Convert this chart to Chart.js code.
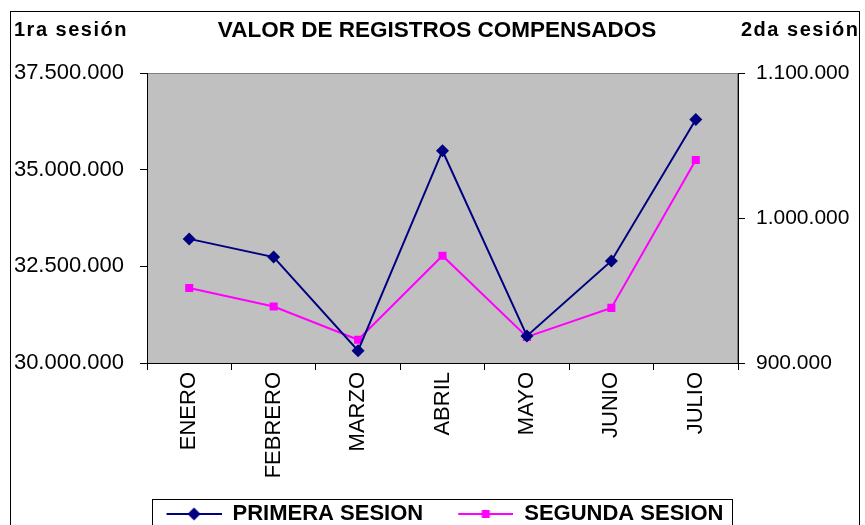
<!DOCTYPE html>
<html>
<head>
<meta charset="utf-8">
<script src="https://cdn.jsdelivr.net/npm/chart.js@4/dist/chart.umd.min.js"></script>
<style>
  html, body { margin: 0; padding: 0; background: #fff; overflow: hidden; }
  #wrap { width: 865px; height: 525px; }
</style>
</head>
<body>
<div id="wrap"><canvas id="grafico" width="865" height="525"></canvas></div>
<script>
const meses = ["ENERO", "FEBRERO", "MARZO", "ABRIL", "MAYO", "JUNIO", "JULIO"];
const primeraSesion = [33210000, 32740000, 30320000, 35490000, 30700000, 32640000, 36300000];
const segundaSesion = [951700, 939000, 916000, 974000, 918000, 938000, 1040000];
const ticksIzq = [30000000, 32500000, 35000000, 37500000];
const ticksDer = [900000, 1000000, 1100000];

const titulo = "VALOR DE REGISTROS COMPENSADOS";
const tituloIzq = "1ra sesión";
const tituloDer = "2da sesión";

const FUENTE = "'Liberation Sans', Arial, sans-serif";
const AZUL = "#000080";
const MAGENTA = "#FF00FF";

const puntos = (valor) => String(valor).replace(/\B(?=(\d{3})+(?!\d))/g, ".");

// iconos de la leyenda: linea con el marcador al medio
const iconoLeyenda = (color, forma) => {
  const c = document.createElement("canvas");
  c.width = 80;
  c.height = 16;
  const ctx = c.getContext("2d");
  ctx.strokeStyle = color;
  ctx.lineWidth = 2;
  ctx.beginPath();
  ctx.moveTo(25, 8);
  ctx.lineTo(80, 8);
  ctx.stroke();
  ctx.fillStyle = color;
  ctx.beginPath();
  if (forma === "rombo") {
    ctx.moveTo(52.5, 1.5);
    ctx.lineTo(59, 8);
    ctx.lineTo(52.5, 14.5);
    ctx.lineTo(46, 8);
    ctx.closePath();
  } else {
    ctx.rect(48.5, 4, 8, 8);
  }
  ctx.fill();
  return c;
};
const iconos = [iconoLeyenda(AZUL, "rombo"), iconoLeyenda(MAGENTA, "cuadro")];

const fondo = {
  id: "fondo",
  beforeDraw(chart) {
    const { ctx, chartArea: a } = chart;
    ctx.save();
    ctx.fillStyle = "#fff";
    ctx.fillRect(0, 0, chart.width, chart.height);
    ctx.fillStyle = "#C0C0C0";
    ctx.fillRect(a.left, a.top, a.right - a.left, a.bottom - a.top);
    ctx.strokeStyle = "#808080";
    ctx.lineWidth = 1;
    ctx.strokeRect(a.left + 0.5, a.top + 0.5, a.right - a.left - 1, a.bottom - a.top);
    ctx.restore();
  },
  afterDraw(chart) {
    const { ctx } = chart;
    ctx.save();
    ctx.strokeStyle = "#000";
    ctx.lineWidth = 1;
    ctx.strokeRect(10.5, 11.5, 849, 540);

    ctx.fillStyle = "#000";
    ctx.textBaseline = "middle";
    ctx.font = "bold 22.5px " + FUENTE;
    ctx.textAlign = "center";
    ctx.fillText(titulo, 437, 31);
    ctx.font = "bold 20px " + FUENTE;
    ctx.letterSpacing = "1.5px";
    ctx.textAlign = "left";
    ctx.fillText(tituloIzq, 14, 30);
    ctx.fillText(tituloDer, 741, 30);
    ctx.letterSpacing = "0px";

    const cajas = chart.legend.legendHitBoxes;
    if (cajas && cajas.length) {
      const ult = cajas[cajas.length - 1];
      const x0 = cajas[0].left + 10;
      const x1 = ult.left + ult.width + 8;
      const y0 = cajas[0].top - 4;
      ctx.strokeStyle = "#000";
      ctx.strokeRect(Math.round(x0) + 0.5, Math.round(y0) + 0.5, Math.round(x1 - x0), 60);
    }
    ctx.restore();
  }
};

const config = {
  type: "line",
  data: {
    labels: meses,
    datasets: [
      {
        label: "PRIMERA SESION",
        data: primeraSesion,
        yAxisID: "yIzq",
        borderColor: AZUL,
        backgroundColor: AZUL,
        borderWidth: 2,
        pointStyle: "rectRot",
        pointRadius: 6.5,
        pointBorderWidth: 0,
        tension: 0
      },
      {
        label: "SEGUNDA SESION",
        data: segundaSesion,
        yAxisID: "yDer",
        borderColor: MAGENTA,
        backgroundColor: MAGENTA,
        borderWidth: 2,
        pointStyle: "rect",
        pointRadius: 5.7,
        pointBorderWidth: 0,
        tension: 0
      }
    ]
  },
  options: {
    responsive: false,
    animation: false,
    layout: { padding: { top: 73, left: 0, right: 0, bottom: -10 } },
    scales: {
      x: {
        offset: true,
        grid: { offset: true, drawOnChartArea: false, color: "#000", tickLength: 7 },
        border: { color: "#000", width: 1 },
        ticks: {
          color: "#000",
          font: { family: FUENTE, size: 22 },
          minRotation: 90,
          maxRotation: 90,
          padding: 2,
          autoSkip: false
        },
        afterFit(s) { s.height = 130; }
      },
      yIzq: {
        position: "left",
        min: ticksIzq[0],
        max: ticksIzq[ticksIzq.length - 1],
        afterBuildTicks(s) { s.ticks = ticksIzq.map((v) => ({ value: v })); },
        grid: { drawOnChartArea: false, color: "#000", tickLength: 7 },
        border: { color: "#000", width: 1 },
        ticks: {
          color: "#000",
          font: { family: FUENTE, size: 22 },
          padding: 16,
          callback: (v) => puntos(v)
        },
        afterFit(s) { s.width = 147; }
      },
      yDer: {
        position: "right",
        min: ticksDer[0],
        max: ticksDer[ticksDer.length - 1],
        afterBuildTicks(s) { s.ticks = ticksDer.map((v) => ({ value: v })); },
        grid: { drawOnChartArea: false, color: "#000", tickLength: 7 },
        border: { color: "#000", width: 1 },
        ticks: {
          color: "#000",
          font: { family: FUENTE, size: 21 },
          padding: 11,
          callback: (v) => puntos(v)
        },
        afterFit(s) { s.width = 127; }
      }
    },
    plugins: {
      title: { display: false },
      tooltip: { enabled: false },
      legend: {
        position: "bottom",
        labels: {
          color: "#000",
          font: { family: FUENTE, size: 22, weight: "bold" },
          usePointStyle: true,
          pointStyleWidth: 80,
          padding: 10,
          generateLabels(chart) {
            const items = Chart.defaults.plugins.legend.labels.generateLabels(chart);
            items.forEach((it, i) => { it.pointStyle = iconos[i]; });
            return items;
          }
        }
      }
    }
  },
  plugins: [fondo]
};

const myChart = new Chart(document.querySelector("#grafico"), config);
</script>
</body>
</html>
